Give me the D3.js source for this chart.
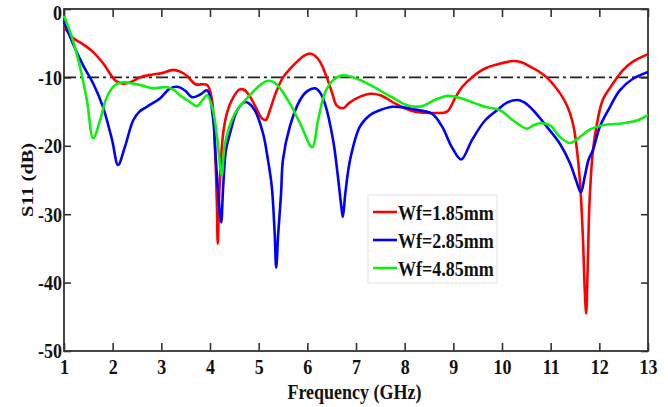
<!DOCTYPE html>
<html>
<head>
<meta charset="utf-8">
<script src="https://cdn.jsdelivr.net/npm/d3@7"></script>
<style>
html,body{margin:0;padding:0;background:#fff;}
svg{display:block;}
</style>
</head>
<body>
<svg id="chart" width="668" height="407"></svg>
<script>
// ---- data ----
const xTicks = [1,2,3,4,5,6,7,8,9,10,11,12,13];
const yTicks = [0,-10,-20,-30,-40,-50];
const seriesNames = ["Wf=1.85mm","Wf=2.85mm","Wf=4.85mm"];
const seriesColors = ["#ff0000","#0000ff","#11ee11"];
const refLevel = -10;

const wf185 = [[1.00,-2.6],[1.18,-4.2],[1.40,-5.2],[1.60,-6.3],[1.80,-7.9],[2.05,-10.4],[2.20,-10.9],[2.40,-10.6],[2.56,-10.0],[2.80,-9.6],[3.00,-9.4],[3.24,-8.9],[3.40,-9.2],[3.53,-9.8],[3.70,-11.0],[3.94,-11.1],[4.04,-13.3],[4.10,-20],[4.14,-28],[4.16,-34.3],[4.19,-27],[4.27,-18.2],[4.35,-15.2],[4.45,-13.3],[4.60,-11.8],[4.70,-11.8],[4.83,-12.9],[4.95,-14.5],[5.07,-16.0],[5.15,-16.2],[5.23,-14.8],[5.35,-12.3],[5.50,-10.0],[5.65,-8.7],[5.79,-7.7],[5.92,-6.9],[6.05,-6.5],[6.15,-6.8],[6.26,-7.7],[6.42,-10.4],[6.52,-12.5],[6.60,-14.1],[6.73,-14.5],[6.85,-13.8],[7.00,-13.1],[7.29,-12.4],[7.50,-12.6],[7.80,-13.8],[8.00,-14.5],[8.21,-15.0],[8.62,-15.2],[8.87,-15.0],[9.03,-13.1],[9.18,-11.4],[9.38,-10.0],[9.65,-8.7],[9.90,-8.1],[10.23,-7.6],[10.40,-7.8],[10.57,-8.4],[10.75,-9.1],[10.92,-10.0],[11.05,-11.0],[11.19,-12.3],[11.30,-13.6],[11.40,-15.3],[11.48,-17.5],[11.54,-20.6],[11.60,-25],[11.66,-33],[11.70,-41],[11.73,-44.5],[11.76,-38],[11.80,-28],[11.87,-20.6],[11.95,-16.8],[12.07,-13.3],[12.28,-10.9],[12.49,-8.9],[12.69,-7.7],[13.00,-6.6]];

const wf285 = [[1.00,-1.8],[1.18,-5.0],[1.39,-8.2],[1.60,-10.9],[1.80,-14.3],[1.99,-19.2],[2.11,-22.8],[2.25,-20.2],[2.42,-16.3],[2.55,-15.0],[2.70,-14.3],[2.97,-13.1],[3.18,-11.6],[3.35,-11.4],[3.50,-12.0],[3.63,-12.9],[3.80,-12.5],[3.94,-11.9],[4.06,-15.8],[4.12,-22],[4.18,-28],[4.23,-31.2],[4.27,-26],[4.33,-20.5],[4.41,-18.2],[4.56,-14.8],[4.72,-13.6],[4.80,-13.8],[4.92,-14.8],[5.09,-18.2],[5.19,-22],[5.27,-26],[5.33,-33],[5.36,-37.8],[5.40,-33],[5.46,-27],[5.50,-22],[5.64,-17.2],[5.85,-13.3],[6.00,-12.0],[6.16,-11.6],[6.26,-12.2],[6.36,-13.8],[6.53,-19.2],[6.63,-24.6],[6.70,-29],[6.73,-30.4],[6.78,-27],[6.88,-22],[7.08,-17.2],[7.29,-15.5],[7.49,-14.8],[7.74,-14.3],[8.00,-14.4],[8.21,-14.7],[8.56,-15.3],[8.77,-17.2],[8.97,-20.2],[9.16,-22.0],[9.38,-19.2],[9.65,-16.3],[9.90,-14.8],[10.10,-13.7],[10.31,-13.3],[10.45,-13.6],[10.57,-14.3],[10.75,-15.7],[10.92,-17.2],[11.19,-19.7],[11.40,-22.6],[11.52,-25],[11.62,-26.8],[11.70,-24.5],[11.78,-22],[11.87,-20.6],[12.01,-17.2],[12.22,-14.3],[12.42,-11.9],[12.69,-10.2],[13.00,-9.2]];

const wf485 = [[1.00,-1.0],[1.18,-4.5],[1.33,-8.5],[1.47,-13.3],[1.60,-18.9],[1.74,-16.3],[1.88,-12.9],[2.05,-11.1],[2.22,-10.7],[2.40,-10.9],[2.56,-11.1],[2.83,-11.6],[3.10,-11.4],[3.25,-11.8],[3.38,-12.6],[3.55,-13.4],[3.73,-14.2],[3.85,-13.3],[3.94,-12.6],[4.06,-14.8],[4.15,-19],[4.24,-24.3],[4.31,-19.6],[4.51,-15.3],[4.78,-12.9],[5.07,-10.9],[5.20,-10.5],[5.33,-10.8],[5.44,-11.6],[5.64,-13.8],[5.85,-16.7],[6.10,-20.2],[6.22,-16.3],[6.36,-12.3],[6.53,-10.4],[6.73,-9.7],[7.02,-10.2],[7.29,-11.1],[7.49,-11.9],[7.74,-12.9],[8.07,-14.1],[8.36,-14.2],[8.62,-13.3],[8.89,-12.7],[9.18,-13.1],[9.45,-13.8],[9.65,-14.3],[9.96,-14.8],[10.23,-16.3],[10.51,-17.5],[10.65,-17.0],[10.78,-16.7],[10.99,-17.0],[11.19,-18.7],[11.40,-19.6],[11.60,-18.7],[11.81,-17.6],[12.07,-17.0],[12.49,-16.7],[12.77,-16.3],[13.00,-15.5]];

const series = [wf185, wf285, wf485];

// ---- layout ----
const W = 668, H = 407;
const m = {left:64, top:9, right:20, bottom:56};
const iw = W - m.left - m.right, ih = H - m.top - m.bottom;
const SY = 1.2; // vertical text stretch
const FONT = "'Liberation Serif','Times New Roman',serif";
const fmt = d => String(d);

const svg = d3.select("#chart");
const x = d3.scaleLinear().domain([1,13]).range([m.left, m.left+iw]);
const y = d3.scaleLinear().domain([-50,0]).range([m.top+ih, m.top]);

// axes (ticks inward)
const gB = svg.append("g").attr("transform",`translate(0,${m.top+ih})`)
  .call(d3.axisBottom(x).tickValues(xTicks).tickSizeInner(-8).tickSizeOuter(0).tickFormat(fmt));
gB.selectAll("text").attr("y", 23/SY).attr("dy",0).attr("transform",`scale(1,${SY})`);

const gT = svg.append("g").attr("transform",`translate(0,${m.top})`)
  .call(d3.axisTop(x).tickValues(xTicks).tickSizeInner(-8).tickSizeOuter(0).tickFormat(""));

const gL = svg.append("g").attr("transform",`translate(${m.left},0)`)
  .call(d3.axisLeft(y).tickValues(yTicks).tickSizeInner(-7).tickSizeOuter(0).tickFormat(fmt));
gL.selectAll("text")
  .attr("x",-2)
  .attr("y", d => Math.max(y(d)+7, 20)/SY - 0)
  .attr("dy",0)
  .attr("transform", d => `translate(0,${-y(d)}) scale(1,${SY})`);

const gR = svg.append("g").attr("transform",`translate(${m.left+iw},0)`)
  .call(d3.axisRight(y).tickValues(yTicks).tickSizeInner(-7).tickSizeOuter(0).tickFormat(""));

[gB,gT,gL,gR].forEach(g=>{
  g.select(".domain").remove();
  g.selectAll("line").attr("stroke","#333").attr("stroke-width",1.6);
  g.selectAll("text").attr("fill","#111").style("font-family",FONT).style("font-weight","bold").style("font-size","18px");
});

// frame
svg.append("rect").attr("x",m.left).attr("y",m.top).attr("width",iw).attr("height",ih)
  .attr("fill","none").attr("stroke","#333").attr("stroke-width",1.8);

// reference line
svg.append("line").attr("x1",x(1)).attr("x2",x(13)).attr("y1",y(refLevel)).attr("y2",y(refLevel))
  .attr("stroke","#222").attr("stroke-width",1.6).attr("stroke-dasharray","12,4,3,4");

// curves
const line = d3.line().x(d=>x(d[0])).y(d=>y(d[1])).curve(d3.curveCatmullRom.alpha(0.5));
series.forEach((s,i)=>{
  svg.append("path").datum(s).attr("d",line).attr("fill","none")
    .attr("stroke",seriesColors[i]).attr("stroke-width",2.6).attr("stroke-linejoin","round");
});

// legend
const lg = svg.append("g");
lg.append("rect").attr("x",368).attr("y",195).attr("width",129).attr("height",88)
  .attr("fill","#fff").attr("stroke","#e4e4e4").attr("stroke-width",1);
seriesNames.forEach((n,i)=>{
  const ly = 212 + i*28;
  lg.append("line").attr("x1",373).attr("x2",397).attr("y1",ly).attr("y2",ly)
    .attr("stroke",seriesColors[i]).attr("stroke-width",2.6);
  lg.append("text").attr("x",398).attr("y",(ly+8)/SY).attr("transform",`scale(1,${SY})`)
    .attr("fill","#111").style("font-family",FONT).style("font-weight","bold").style("font-size","18px")
    .text(n);
});

// axis titles
svg.append("text").attr("x",354.5).attr("y",399/SY).attr("transform",`scale(1,${SY})`)
  .attr("text-anchor","middle").attr("fill","#111")
  .style("font-family",FONT).style("font-weight","bold").style("font-size","18px")
  .text("Frequency (GHz)");

svg.append("text").attr("transform",`translate(33,180) rotate(-90) scale(${SY},1)`)
  .attr("text-anchor","middle").attr("fill","#111")
  .style("font-family",FONT).style("font-weight","bold").style("font-size","17px")
  .text("S11 (dB)");
</script>
</body>
</html>
